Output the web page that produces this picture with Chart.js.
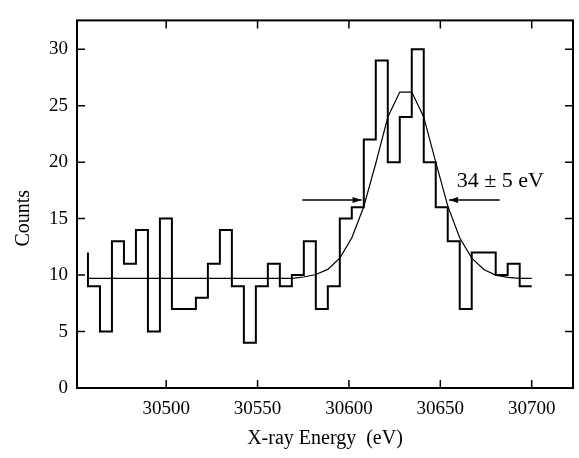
<!DOCTYPE html>
<html>
<head>
<meta charset="utf-8">
<script src="https://cdn.jsdelivr.net/npm/chart.js@4.4.1/dist/chart.umd.min.js"></script>
<style>
  html, body { margin: 0; padding: 0; background: #fff; }
  canvas { display: block; }
</style>
</head>
<body>
<canvas id="chart" width="579" height="458"></canvas>
<script>
// histogram: 37 channels starting at binStart, binWidth eV wide
const binStart = 30457.2;
const binWidth = 6.562;
const startLevel = 12; // level the trace comes in at, left edge
const counts = [9, 5, 13, 11, 14, 5, 15, 7, 7, 8, 11, 14, 9, 4, 9, 11, 9, 10, 13, 7,
                9, 15, 16, 22, 29, 20, 24, 30, 20, 16, 13, 7, 12, 12, 10, 11, 9];

// gaussian fit
const fitEnergy = [30457.2, 30568.8, 30575.3, 30581.9, 30588.4, 30595.0, 30601.6, 30608.1,
                   30614.7, 30621.3, 30627.8, 30634.4, 30640.9, 30647.5, 30654.1, 30660.6,
                   30667.2, 30673.8, 30680.3, 30686.9, 30693.4, 30700.0];
const fitCounts = [9.7, 9.7, 9.83, 10.05, 10.5, 11.5, 13.3, 16.05, 19.9, 24.0, 26.2,
                   26.2, 24.0, 20.0, 16.1, 13.3, 11.5, 10.5, 10.0, 9.8, 9.7, 9.7];

// FWHM marker: [tail, tip] energies, level, label
const arrowLeft = [30574.5, 30606.9];
const arrowRight = [30682.5, 30654.8];
const arrowLevel = 16.65;
const fwhmLabel = '34 ± 5 eV';
const fwhmLabelAt = [30659, 17.8];

const xRange = [30451.2, 30722.6];
const yRange = [0, 32.55];

const histPoints = [{ x: binStart, y: startLevel }];
counts.forEach((c, i) => histPoints.push({ x: binStart + (i + 1) * binWidth, y: c }));
const fitPoints = fitEnergy.map((e, i) => ({ x: e, y: fitCounts[i] }));

const onStep = (v, step) => Math.abs(v / step - Math.round(v / step)) < 1e-6;

const arrow = (ctx, x0, x1, y) => {
    ctx.beginPath();
    ctx.moveTo(x0, y);
    ctx.lineTo(x1, y);
    ctx.stroke();
    const dir = Math.sign(x1 - x0);
    ctx.beginPath();
    ctx.moveTo(x1, y);
    ctx.lineTo(x1 - dir * 9, y - 3);
    ctx.lineTo(x1 - dir * 9, y + 3);
    ctx.closePath();
    ctx.fill();
};

const decorations = {
    id: 'decorations',
    afterDatasetsDraw(chart) {
        const { ctx, chartArea: a, scales: { x, y } } = chart;
        ctx.save();
        ctx.strokeStyle = '#000';
        ctx.fillStyle = '#000';

        // frame
        ctx.lineWidth = 2;
        ctx.strokeRect(a.left, a.top, a.right - a.left, a.bottom - a.top);

        // inward ticks on all four sides
        ctx.lineWidth = 1.5;
        ctx.beginPath();
        x.ticks.forEach(t => {
            if (!onStep(t.value, 25)) return;
            const px = x.getPixelForValue(t.value);
            const len = onStep(t.value, 50) ? 8 : 5;
            ctx.moveTo(px, a.bottom); ctx.lineTo(px, a.bottom - len);
            ctx.moveTo(px, a.top); ctx.lineTo(px, a.top + len);
        });
        y.ticks.forEach(t => {
            if (!onStep(t.value, 2.5)) return;
            const py = y.getPixelForValue(t.value);
            const len = onStep(t.value, 5) ? 8 : 5;
            ctx.moveTo(a.left, py); ctx.lineTo(a.left + len, py);
            ctx.moveTo(a.right, py); ctx.lineTo(a.right - len, py);
        });
        ctx.stroke();

        // FWHM arrows and label
        const ay = y.getPixelForValue(arrowLevel);
        arrow(ctx, x.getPixelForValue(arrowLeft[0]), x.getPixelForValue(arrowLeft[1]), ay);
        arrow(ctx, x.getPixelForValue(arrowRight[0]), x.getPixelForValue(arrowRight[1]), ay);
        ctx.font = '22px "Liberation Serif"';
        ctx.textAlign = 'left';
        ctx.textBaseline = 'alphabetic';
        ctx.fillText(fwhmLabel, x.getPixelForValue(fwhmLabelAt[0]), y.getPixelForValue(fwhmLabelAt[1]));

        // y axis title
        ctx.font = '20px "Liberation Serif"';
        ctx.textAlign = 'center';
        ctx.textBaseline = 'middle';
        ctx.translate(a.left - 53.5, (a.top + a.bottom) / 2 + 14);
        ctx.rotate(-Math.PI / 2);
        ctx.fillText('Counts', 0, 0);
        ctx.restore();
    }
};

Chart.defaults.font.family = '"Liberation Serif"';
Chart.defaults.color = '#000';

new Chart(document.getElementById('chart'), {
    type: 'line',
    data: {
        datasets: [
            {
                data: histPoints,
                stepped: 'after',
                borderColor: '#000',
                borderWidth: 2,
                borderJoinStyle: 'miter',
                pointRadius: 0,
                fill: false
            },
            {
                data: fitPoints,
                borderColor: '#000',
                borderWidth: 1.2,
                tension: 0,
                pointRadius: 0,
                fill: false
            }
        ]
    },
    options: {
        responsive: false,
        animation: false,
        events: [],
        layout: { padding: { top: 6, right: 6, left: 0, bottom: 0 } },
        plugins: { legend: { display: false }, tooltip: { enabled: false } },
        scales: {
            x: {
                type: 'linear',
                min: xRange[0],
                max: xRange[1],
                afterFit: s => { s.height = 70; },
                grid: { display: false, drawTicks: false },
                border: { display: false },
                ticks: {
                    stepSize: 25,
                    includeBounds: false,
                    autoSkip: false,
                    maxRotation: 0,
                    padding: 10,
                    font: { size: 19 },
                    callback: v => onStep(v, 50) ? String(v) : null
                },
                title: {
                    display: true,
                    text: 'X-ray Energy  (eV)',
                    font: { size: 20 },
                    padding: { top: 0, bottom: 7 }
                }
            },
            y: {
                min: yRange[0],
                max: yRange[1],
                afterFit: s => { s.width = 77; },
                grid: { display: false, drawTicks: false },
                border: { display: false },
                ticks: {
                    stepSize: 2.5,
                    autoSkip: false,
                    padding: 9,
                    font: { size: 19 },
                    callback: v => onStep(v, 5) ? String(v) : null
                }
            }
        }
    },
    plugins: [decorations]
});
</script>
</body>
</html>
